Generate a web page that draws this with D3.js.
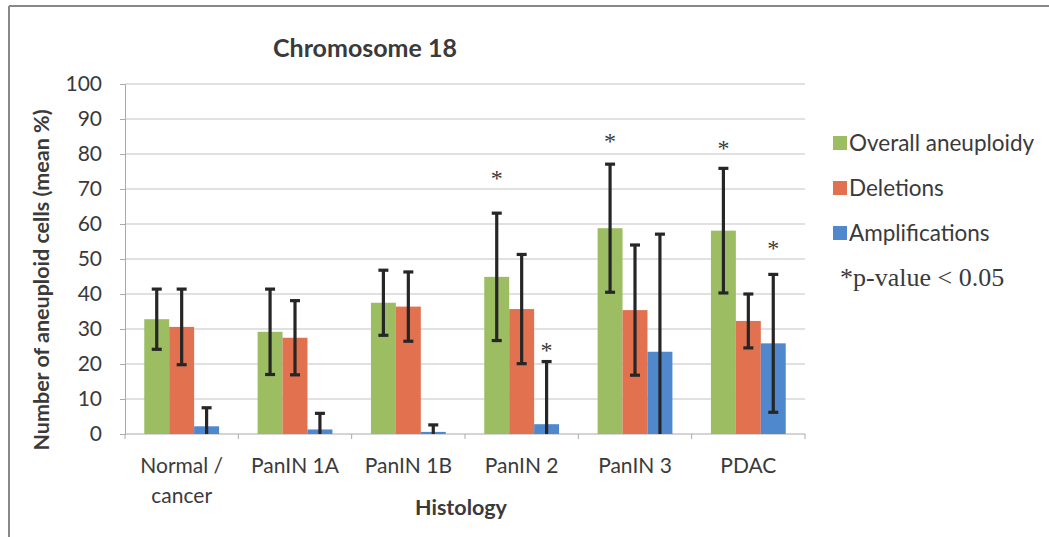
<!DOCTYPE html>
<html><head><meta charset="utf-8">
<script src="https://cdn.jsdelivr.net/npm/d3@7"></script>
<style>body{margin:0;background:#fff}svg{display:block}text{font-family:Lato,"Open Sans",sans-serif;fill:#3a3a3a}</style>
</head><body><svg id="c" width="1049" height="537"></svg>
<script>
const categories = [["Normal /","cancer"],["PanIN 1A"],["PanIN 1B"],["PanIN 2"],["PanIN 3"],["PDAC"]];
const seriesNames = ["Overall aneuploidy","Deletions","Amplifications"];
const overall = [32.8, 29.2, 37.5, 44.9, 58.8, 58.1];
const overallErr = [8.6, 12.2, 9.3, 18.2, 18.3, 17.8];
const deletions = [30.6, 27.5, 36.4, 35.7, 35.4, 32.3];
const deletionsErr = [10.8, 10.6, 9.9, 15.6, 18.6, 7.7];
const amplifications = [2.2, 1.3, 0.6, 2.8, 23.5, 25.9];
const amplificationsErr = [5.3, 4.6, 2.0, 17.9, 33.6, 19.7];
const yTicks = [0,10,20,30,40,50,60,70,80,90,100];
// significance markers: [category index, series index, label value]
const sigMarks = [[3,0,74],[3,2,25],[4,0,84.5],[5,0,82.5],[5,2,54]];
const colors = ["#9dbd62","#e2714f","#4f88cc"];

(function(){
const svg = d3.select("#c");
const pLeft = 125, pRight = 805, pTop = 84, pBottom = 434;
const x = d3.scaleBand().domain(d3.range(categories.length)).range([pLeft,pRight]).paddingInner(0.34).paddingOuter(0.17);
const groupX = d3.scaleBand().domain(d3.range(categories.length)).range([pLeft,pRight]);
const xs = d3.scaleBand().domain(d3.range(3)).range([0, x.bandwidth()]);
const y = d3.scaleLinear().domain([0,100]).range([pBottom, pTop]);

// frame
svg.append("line").attr("x1",9).attr("x2",1049).attr("y1",6).attr("y2",6).attr("stroke","#888").attr("stroke-width",2);
svg.append("line").attr("x1",9).attr("x2",9).attr("y1",6).attr("y2",537).attr("stroke","#888").attr("stroke-width",2);

// gridlines
svg.append("g").selectAll("line").data(yTicks.filter(d=>d>0)).join("line")
  .attr("x1",pLeft).attr("x2",pRight).attr("y1",d=>y(d)).attr("y2",d=>y(d))
  .attr("stroke","#c4c4c4").attr("stroke-width",1.2);

// y axis
const ya = svg.append("g").attr("transform",`translate(${pLeft},0)`)
  .call(d3.axisLeft(y).tickValues(yTicks).tickSize(5).tickPadding(18));
ya.select(".domain").attr("stroke","#aaa");
ya.selectAll(".tick line").attr("stroke","#aaa");
ya.selectAll("text").style("font-size","21px").attr("fill","#3a3a3a").style("font-family","Lato");

// x axis
const xa = svg.append("g").attr("transform",`translate(0,${pBottom})`);
xa.append("line").attr("x1",pLeft).attr("x2",pRight).attr("stroke","#aaa");
xa.selectAll(".tk").data(d3.range(categories.length+1)).join("line").attr("class","tk")
  .attr("x1",d=>pLeft + d*groupX.bandwidth()).attr("x2",d=>pLeft + d*groupX.bandwidth())
  .attr("y1",0).attr("y2",5).attr("stroke","#aaa");
const lab = xa.selectAll(".lab").data(categories).join("text").attr("class","lab")
  .attr("text-anchor","middle").style("font-size","21px")
  .attr("transform",(d,i)=>`translate(${groupX(i)+groupX.bandwidth()/2},39)`);
lab.each(function(d){
  d3.select(this).selectAll("tspan").data(d).join("tspan").attr("x",0).attr("dy",(t,j)=>j?30:0).text(t=>t);
});

// bars
const series = [[overall,overallErr],[deletions,deletionsErr],[amplifications,amplificationsErr]];
series.forEach(([vals,errs],s)=>{
  const g = svg.append("g");
  g.selectAll("rect").data(vals).join("rect")
    .attr("x",(d,i)=>x(i)+xs(s)).attr("width",xs.bandwidth())
    .attr("y",d=>y(d)).attr("height",d=>y(0)-y(d)).attr("fill",colors[s]);
});
series.forEach(([vals,errs],s)=>{
  const g = svg.append("g").attr("stroke","#262626");
  vals.forEach((v,i)=>{
    const cx = x(i)+xs(s)+xs.bandwidth()/2;
    const hi = v+errs[i], lo = Math.max(0, v-errs[i]);
    g.append("line").attr("x1",cx).attr("x2",cx).attr("y1",y(hi)).attr("y2",y(lo)).attr("stroke-width",3.2);
    g.append("line").attr("x1",cx-5).attr("x2",cx+5).attr("y1",y(hi)).attr("y2",y(hi)).attr("stroke-width",3.2);
    if (v-errs[i] > 0) g.append("line").attr("x1",cx-5).attr("x2",cx+5).attr("y1",y(lo)).attr("y2",y(lo)).attr("stroke-width",3.2);
  });
});

// significance asterisks
svg.append("g").selectAll("text").data(sigMarks).join("text")
  .attr("x",d=>x(d[0])+xs(d[1])+xs.bandwidth()/2).attr("y",d=>y(d[2])+11)
  .attr("text-anchor","middle").style("font-family","'Liberation Serif',serif").style("font-size","24px")
  .attr("fill","#555").text("*");

// title
svg.append("text").attr("x",365).attr("y",57).attr("text-anchor","middle")
  .style("font-size","25px").style("font-weight","bold").attr("fill","#1a1a1a").text("Chromosome 18");

// axis titles
svg.append("text").attr("transform","translate(49,280) rotate(-90)").attr("text-anchor","middle")
  .style("font-size","21.5px").style("font-weight","bold").attr("fill","#222").text("Number of aneuploid cells (mean %)");
svg.append("text").attr("x",461).attr("y",515).attr("text-anchor","middle")
  .style("font-size","21.5px").style("font-weight","bold").attr("fill","#222").text("Histology");

// legend
const lg = svg.append("g");
seriesNames.forEach((n,i)=>{
  const yy = 143 + i*45;
  lg.append("rect").attr("x",833).attr("y",yy-7).attr("width",14).attr("height",14).attr("fill",colors[i]);
  lg.append("text").attr("x",849).attr("y",yy+8).style("font-size","22.5px").text(n);
});
lg.append("text").attr("x",840).attr("y",286).style("font-family","'Liberation Serif',serif").style("font-size","26px").attr("fill","#222").text("*p-value < 0.05");
})();
</script></body></html>
